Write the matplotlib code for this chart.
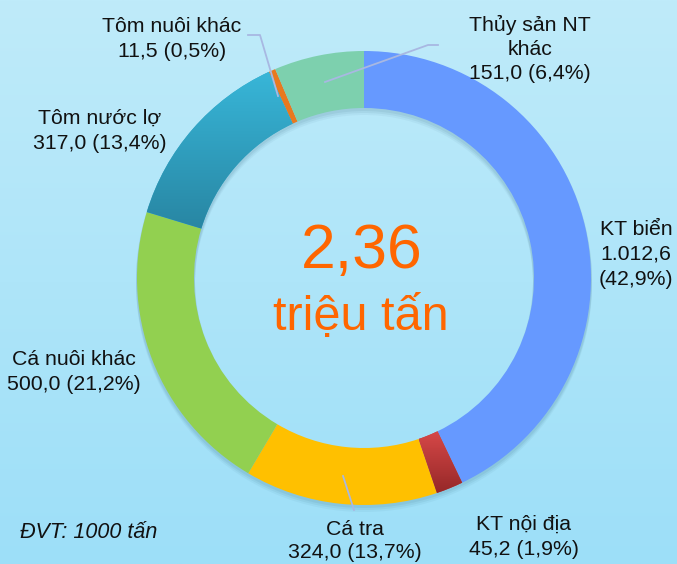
import numpy as np
import matplotlib
matplotlib.use("Agg")
import matplotlib.pyplot as plt
from matplotlib.patches import Wedge
from matplotlib.colors import to_rgb

# Data (nghìn tấn)
categories = ["KT biển", "KT nội địa", "Cá tra", "Cá nuôi khác",
              "Tôm nước lợ", "Tôm nuôi khác", "Thủy sản NT khác"]
values = [1012.6, 45.2, 324.0, 500.0, 317.0, 11.5, 151.0]
colors = ["#6699FF", "#C23B3B", "#FFC000", "#92D050",
          "#32A8C9", "#E8791F", "#7DD0AE"]
# label text lines (name part), value/percent appended below
name_lines = [["KT biển"], ["KT nội địa"], ["Cá tra"], ["Cá nuôi khác"],
              ["Tôm nước lợ"], ["Tôm nuôi khác"], ["Thủy sản NT", "khác"]]
total = sum(values)


def vn(x, nd=1):
    s = f"{x:,.{nd}f}"
    return s.replace(",", "X").replace(".", ",").replace("X", ".")


plt.rcParams['font.family'] = ['Liberation Sans', 'DejaVu Sans']

W, H = 677, 564
fig = plt.figure(figsize=(W / 100, H / 100), dpi=100)
ax = fig.add_axes([0, 0, 1, 1])

# background gradient
top, bot = np.array(to_rgb("#BFEBFA")), np.array(to_rgb("#9DDFF8"))
t = np.linspace(0, 1, 256)[:, None, None]
bg = top * (1 - t) + bot * t
ax.imshow(np.repeat(bg, 2, axis=1), extent=(0, W, H, 0), origin="upper",
          aspect="auto", zorder=0)

cx, cy, R, ring = 364, 278, 227, 57

# soft shadow of the ring
for off, a in [(6, 0.05), (4, 0.07), (2, 0.08)]:
    ax.add_patch(Wedge((cx, cy + off), R + 1, 0, 360, width=ring + 2,
                       facecolor="#2A5A70", alpha=a, lw=0, zorder=1))

wedges, _ = ax.pie(values, colors=colors, startangle=-90, counterclock=True,
                   center=(cx, cy), radius=R,
                   wedgeprops=dict(width=ring, linewidth=0, edgecolor="none"))
for w in wedges:
    w.set_zorder(2)

# gradient shading on two slices
grads = {1: ("#D64848", "#962828"), 4: ("#38B6D8", "#2886A3")}
for i, (c1, c2) in grads.items():
    w = wedges[i]
    bb = w.get_path().get_extents()
    g1, g2 = np.array(to_rgb(c1)), np.array(to_rgb(c2))
    gi = g1 * (1 - t) + g2 * t
    im = ax.imshow(np.repeat(gi, 2, axis=1),
                   extent=(bb.x0, bb.x1, bb.y1, bb.y0), origin="upper",
                   aspect="auto", zorder=3)
    im.set_clip_path(w)

# labels: (x center, first baseline, line step)
label_pos = [(636, 235, 25), (524, 530, 25), (355, 535, 23), (74, 365, 25),
             (100, 124, 25), (172, 32, 25), (530, 31, 24)]
for name, v, (lx, ly, step) in zip(name_lines, values, label_pos):
    pct = v / total * 100
    if name[0] == "KT biển":
        lines = name + [vn(v), f"({vn(pct)}%)"]
    else:
        lines = name + [f"{vn(v)} ({vn(pct)}%)"]
    for k, s in enumerate(lines):
        ax.text(lx, ly + k * step, s, ha="center", va="baseline",
                fontsize=15.3, color="#111111", zorder=5)

# leader lines
lc = "#A8B8E2"
ax.plot([248, 260, 278], [35, 35, 96], color=lc, lw=1.3, zorder=4)
ax.plot([438, 428, 325], [45, 45, 82], color=lc, lw=1.3, zorder=4)
ax.plot([343, 354], [476, 510], color=lc, lw=1.3, zorder=4)

# center text
ax.text(362, 268, vn(total / 1000, 2), ha="center", va="baseline",
        fontsize=45, color="#FF6600", zorder=5)
ax.text(361, 330, "triệu tấn", ha="center", va="baseline",
        fontsize=35, color="#FF6600", zorder=5)

ax.text(20, 538, "ĐVT: 1000 tấn", ha="left", va="baseline",
        fontsize=15.5, style="italic", color="#111111", zorder=5)

ax.set_xlim(0, W)
ax.set_ylim(H, 0)
ax.set_aspect("auto")
ax.axis("off")

fig.savefig("out.png", dpi=100)
